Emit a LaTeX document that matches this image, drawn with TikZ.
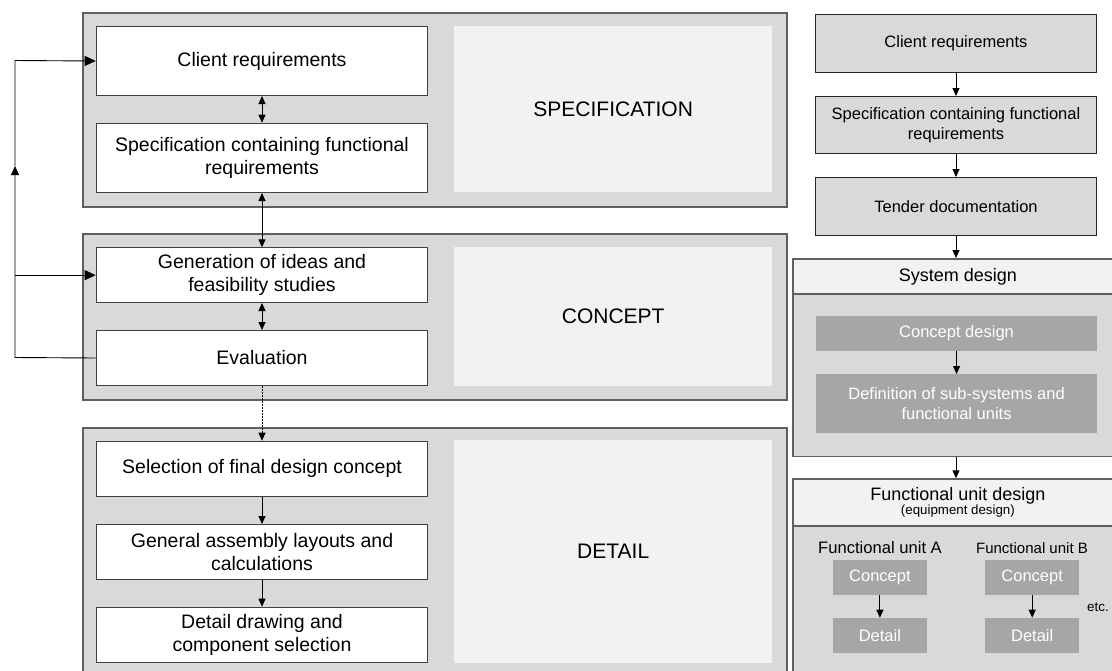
\documentclass[tikz,border=0pt]{standalone}
\usepackage{fontspec}
\setmainfont{Liberation Sans}
\usetikzlibrary{arrows.meta}

\definecolor{panelfill}{HTML}{D9D9D9}
\definecolor{panelline}{HTML}{5F5F5F}
\definecolor{labelfill}{HTML}{F2F2F2}
\definecolor{darkfill}{HTML}{A6A6A6}
\definecolor{boxline}{HTML}{404040}

\newcommand\setfs[2]{\fontsize{#1}{#2}\selectfont}

\tikzset{
  wh/.style 2 args={minimum width=#1pt, minimum height=#2pt},
  panel/.style={draw=panelline, line width=1.8pt, fill=panelfill,
    anchor=north west, inner sep=0pt},
  headbox/.style={draw=panelline, line width=1.8pt, fill=labelfill,
    anchor=north west, inner sep=0pt, align=center},
  labelbox/.style={fill=labelfill, anchor=north west, inner sep=0pt,
    font=\setfs{21}{25}},
  whitebox/.style={draw=boxline, line width=1pt, fill=white,
    anchor=north west, inner sep=0pt, align=center, font=\setfs{19.5}{22.5}},
  graybox/.style={draw=black!85, line width=1pt, fill=panelfill,
    anchor=north west, inner sep=0pt, align=center, font=\setfs{16.5}{19.5}},
  darkbox/.style={fill=darkfill, text=white, anchor=north west,
    inner sep=0pt, align=center, font=\setfs{16.5}{19.5}},
  link/.style={line width=0.9pt, -{Triangle[length=8pt,width=7pt]}},
  twoway/.style={line width=0.9pt,
    {Triangle[length=8pt,width=7pt]}-{Triangle[length=8pt,width=7pt]}},
  feed/.style={line width=0.9pt, -{Triangle[length=11pt,width=10pt]}},
  feedup/.style={line width=0.9pt, -{Triangle[length=9pt,width=8pt]}},
}

\begin{document}
\begin{tikzpicture}[x=1pt, y=-1pt]
\clip (0,0) rectangle (1112,670);
\fill[white] (0,0) rectangle (1112,670);

% ---- left: phase panels ----
\node[panel, wh={704.3}{194.3}] (specpanel)    at (81.7,11.7)  {};
\node[panel, wh={704.3}{166}]   (conceptpanel) at (81.7,233.3) {};
\node[panel, wh={704.3}{262}]   (detailpanel)  at (81.7,427.3) {};

\node[labelbox, wh={318}{166}] (speclabel)    at (454,26)  {SPECIFICATION};
\node[labelbox, wh={318}{139}] (conceptlabel) at (454,247) {CONCEPT};
\node[labelbox, wh={318}{223}] (detaillabel)  at (454,440) {DETAIL};

\node[whitebox, wh={331.6}{69}]   (client)  at (95.7,26)    {Client requirements};
\node[whitebox, wh={331.6}{69.3}] (specfr)  at (95.7,122.7) {Specification containing functional\\requirements};
\node[whitebox, wh={331.6}{54.7}] (gen)     at (95.7,247.3) {Generation of ideas and\\feasibility studies};
\node[whitebox, wh={331.6}{55}]   (eval)    at (95.7,330)   {Evaluation};
\node[whitebox, wh={331.6}{55.3}] (select)  at (95.7,440.7) {Selection of final design concept};
\node[whitebox, wh={331.6}{55}]   (layout)  at (95.7,524)   {General assembly layouts and\\calculations};
\node[whitebox, wh={331.6}{55.6}] (drawing) at (95.7,606.7) {Detail drawing and\\component selection};

\draw[twoway] (client.south) -- (specfr.north);
\draw[twoway] (specfr.south) -- (gen.north);
\draw[twoway] (gen.south) -- (eval.north);
\draw[link, dash pattern=on 1.5pt off 1.5pt] (eval.south) -- (select.north);
\draw[link] (select.south) -- (layout.north);
\draw[link] (layout.south) -- (drawing.north);

% feedback loop on the left
\coordinate (fbBot) at (15,357.5);
\coordinate (fbMid) at (15,166);
\coordinate (fbTop) at (15,60.5);
\draw[feedup] (eval.west) -- (fbBot) -- (fbMid);
\draw[feed] (fbMid) -- (fbTop) -- (client.west);
\draw[feed] (fbBot |- gen.west) -- (gen.west);

% ---- right: sequential design process ----
\node[graybox, wh={281}{58}] (rclient) at (815,14)  {Client requirements};
\node[graybox, wh={281}{57}] (rspec)   at (815,96)  {Specification containing functional\\requirements};
\node[graybox, wh={281}{58}] (rtender) at (815,177) {Tender documentation};

\node[panel, wh={330}{197.5}] (syspanel) at (792,258) {};
\node[headbox, wh={330}{35}, font=\setfs{18}{21}] (syshead) at (792,258) {System design};
\node[darkbox, wh={280.7}{34.7}] (cdesign) at (816,316) {Concept design};
\node[darkbox, wh={280.7}{58.7}] (defin)   at (816,374) {Definition of sub-systems and\\functional units};

\node[panel, wh={330}{220}] (fupanel) at (792,478.3) {};
\node[headbox, wh={330}{46.7}, font=\setfs{18}{14}] (fuhead) at (792,478.3)
  {Functional unit design\\{\setfs{13.3}{14}(equipment design)}};

\node[font=\setfs{16.6}{18}] (unitA) at (880,548)  {Functional unit A};
\node[font=\setfs{15}{18}]   (unitB) at (1032,548) {Functional unit B};
\node[darkbox, wh={94}{35}] (conA) at (832.7,560)   {Concept};
\node[darkbox, wh={94}{35}] (detA) at (832.7,617.7) {Detail};
\node[darkbox, wh={94}{35}] (conB) at (985,560)     {Concept};
\node[darkbox, wh={94}{35}] (detB) at (985,617.7)   {Detail};
\node[font=\setfs{13.4}{15}] (etc) at (1098,607) {etc.};

\draw[link] (rclient.south) -- (rspec.north);
\draw[link] (rspec.south) -- (rtender.north);
\draw[link] (rtender.south) -- (rtender.south |- syspanel.north);
\draw[link] (cdesign.south) -- (defin.north);
\draw[link] (rtender.south |- syspanel.south) -- (rtender.south |- fupanel.north);
\draw[link] (conA.south) -- (detA.north);
\draw[link] (conB.south) -- (detB.north);
\end{tikzpicture}
\end{document}
